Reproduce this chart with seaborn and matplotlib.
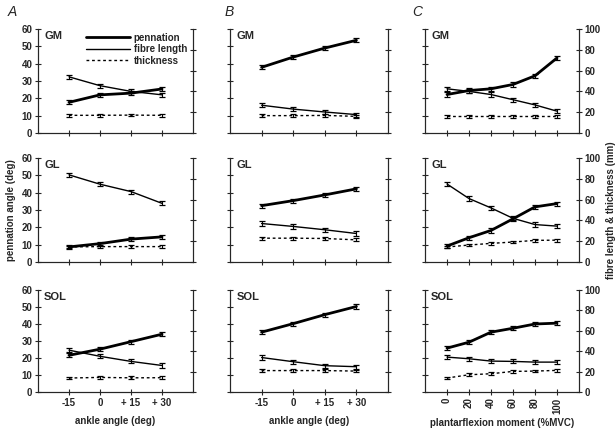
import matplotlib
matplotlib.use("Agg")
import matplotlib.pyplot as plt
from matplotlib.lines import Line2D
import seaborn as sns

# x values
ANGLES = [-15, 0, 15, 30]
ANGLE_LABELS = ["-15", "0", "+ 15", "+ 30"]
MVC = [0, 20, 40, 60, 80, 100]
MUSCLES = ["GM", "GL", "SOL"]

# column A: rest, vs ankle angle (pennation in deg, fibre length & thickness in mm)
A_PENN = {"GM": [17.7, 22.0, 23.0, 25.4], "GL": [8.7, 10.6, 13.2, 14.5], "SOL": [21.6, 25.2, 29.6, 34.0]}
A_FIBRE = {"GM": [54.0, 45.5, 40.0, 36.7], "GL": [83.8, 74.8, 67.7, 56.4], "SOL": [41.0, 35.0, 30.0, 26.0]}
A_THICK = {"GM": [17.0, 17.0, 17.2, 17.0], "GL": [14.5, 14.8, 14.8, 14.8], "SOL": [13.7, 14.3, 13.9, 14.0]}

# column B: MVC, vs ankle angle
B_PENN = {"GM": [37.9, 43.8, 49.0, 53.5], "GL": [32.5, 35.4, 38.7, 42.2], "SOL": [35.2, 40.2, 45.5, 50.3]}
B_FIBRE = {"GM": [26.7, 23.0, 20.2, 17.7], "GL": [37.0, 34.2, 31.0, 27.4], "SOL": [33.8, 29.7, 25.8, 24.8]}
B_THICK = {"GM": [16.7, 16.7, 16.9, 16.0], "GL": [22.9, 22.9, 22.6, 21.3], "SOL": [21.0, 21.0, 21.0, 20.5]}

# column C: vs plantarflexion moment
C_PENN = {"GM": [22.2, 24.5, 25.5, 28.0, 33.0, 43.3], "GL": [9.2, 14.0, 18.2, 24.9, 31.8, 33.7],
          "SOL": [25.8, 29.3, 35.2, 37.5, 40.0, 40.5]}
C_FIBRE = {"GM": [42.5, 40.0, 37.0, 32.0, 27.0, 21.0], "GL": [75.0, 61.0, 52.0, 42.0, 36.0, 34.5],
           "SOL": [34.2, 32.6, 30.3, 30.0, 29.3, 29.3]}
C_THICK = {"GM": [16.0, 16.0, 16.0, 16.0, 16.0, 16.0], "GL": [14.4, 16.3, 17.9, 19.2, 20.8, 21.0],
           "SOL": [13.7, 16.9, 17.9, 20.2, 20.5, 21.2]}

PENN_ERR = 1.2
FIBRE_ERR = 2.0
THICK_ERR = 1.3

sns.set_style("ticks")
plt.rcParams["font.family"] = ["Liberation Sans", "DejaVu Sans"]
plt.rcParams["font.weight"] = "bold"
plt.rcParams["font.size"] = 7

W, H = 615, 429
fig = plt.figure(figsize=(W / 100, H / 100), dpi=100)

cols = [(38, 193), (230, 388), (425, 579)]
rows = [(29, 133), (158, 262), (290, 392)]
columns = [
    (ANGLES, A_PENN, A_FIBRE, A_THICK),
    (ANGLES, B_PENN, B_FIBRE, B_THICK),
    (MVC, C_PENN, C_FIBRE, C_THICK),
]


def errbars(ax, x, y, e, lw):
    ax.errorbar(x, y, yerr=e, fmt="none", ecolor="black", elinewidth=0.8,
                capsize=2.5, capthick=0.9)


for c, (x0, x1) in enumerate(cols):
    xs, penn, fibre, thick = columns[c]
    for r, (y0, y1) in enumerate(rows):
        m = MUSCLES[r]
        ax = fig.add_axes([x0 / W, 1 - y1 / H, (x1 - x0) / W, (y1 - y0) / H])
        ax2 = ax.twinx()

        sns.lineplot(x=xs, y=penn[m], ax=ax, color="black", lw=2.0)
        errbars(ax, xs, penn[m], PENN_ERR, 2.0)
        sns.lineplot(x=xs, y=fibre[m], ax=ax2, color="black", lw=1.0)
        errbars(ax2, xs, fibre[m], FIBRE_ERR, 1.0)
        sns.lineplot(x=xs, y=thick[m], ax=ax2, color="black", lw=1.0, dashes=False)
        ax2.lines[-1].set_linestyle((0, (2, 2)))
        errbars(ax2, xs, thick[m], THICK_ERR, 1.0)

        ax.set_ylim(0, 60)
        ax2.set_ylim(0, 100)
        ax.set_yticks(range(0, 61, 10))
        ax2.set_yticks(range(0, 101, 20))
        if c < 2:
            ax.set_xlim(-30, 45)
            ax.set_xticks(ANGLES)
            ax.set_xticklabels(ANGLE_LABELS)
        else:
            ax.set_xlim(-20, 120)
            ax.set_xticks(MVC)
            ax.set_xticklabels([str(v) for v in MVC], rotation=90)

        for a in (ax, ax2):
            a.spines["top"].set_visible(False)
            a.spines["right"].set_visible(True)
            for s in a.spines.values():
                s.set_linewidth(0.8)
            a.tick_params(direction="inout", length=4, width=0.8, pad=2, labelsize=7)
        ax.tick_params(axis="y", labelleft=(c == 0))
        ax2.tick_params(axis="y", labelright=(c == 2))
        ax.tick_params(axis="x", labelbottom=(r == 2))

        ax.text(0.04, 0.98, m, transform=ax.transAxes, ha="left", va="top",
                fontsize=8, fontweight="bold")

        if r == 2:
            if c < 2:
                ax.set_xlabel("ankle angle (deg)", fontsize=7, fontweight="bold", labelpad=6)
            else:
                ax.set_xlabel("plantarflexion moment (%MVC)", fontsize=7, fontweight="bold", labelpad=3)
        if r == 1 and c == 0:
            ax.set_ylabel("pennation angle (deg)", fontsize=7, fontweight="bold", labelpad=4)
        if r == 1 and c == 2:
            ax2.set_ylabel("fibre length & thickness (mm)", fontsize=7, fontweight="bold",
                           rotation=90, labelpad=4)

        if r == 0 and c == 0:
            handles = [Line2D([], [], color="black", lw=2.0),
                       Line2D([], [], color="black", lw=1.0),
                       Line2D([], [], color="black", lw=1.0, ls=(0, (2, 2)))]
            ax2.legend(handles, ["pennation", "fibre length", "thickness"],
                       loc="upper right", bbox_to_anchor=(1.0, 1.02), frameon=False,
                       fontsize=7, handlelength=4.5, handletextpad=0.4,
                       labelspacing=0.15, borderaxespad=0.2)

for label, xp in zip(["A", "B", "C"], [8, 225, 412]):
    fig.text(xp / W, 1 - 12 / H, label, fontsize=10, style="italic", fontweight="normal",
             ha="left", va="center")

fig.savefig("out.png", dpi=100)
